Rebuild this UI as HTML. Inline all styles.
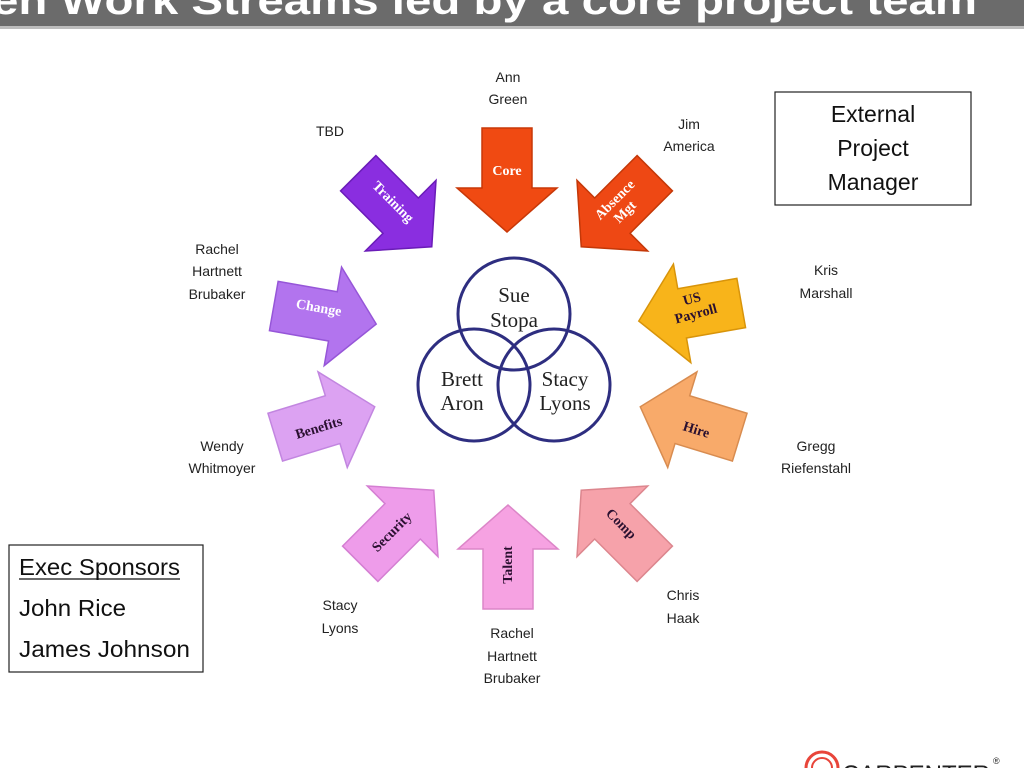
<!DOCTYPE html>
<html><head><meta charset="utf-8"><style>
html,body{margin:0;padding:0;background:#fff;width:1024px;height:768px;overflow:hidden;font-family:"Liberation Sans",sans-serif;}
</style></head><body>
<svg width="1024" height="768" viewBox="0 0 1024 768" xmlns="http://www.w3.org/2000/svg" font-family="Liberation Sans, sans-serif">
<defs>
<path id="arr" d="M-25,-52 L25,-52 L25,8 L50,8 L0,52 L-50,8 L-25,8 Z"/>
</defs>
<rect x="0" y="0" width="1024" height="26" fill="#6b6b6b"/>
<rect x="0" y="26" width="1024" height="3" fill="#bdbdbd"/>
<text x="-8" y="14" font-size="40" font-weight="bold" fill="#fff" textLength="985" lengthAdjust="spacingAndGlyphs">en Work Streams led by a core project team</text>

<g stroke-width="1.5">
<use href="#arr" transform="translate(507,180)" fill="#f04a12" stroke="#c83808"/>
<use href="#arr" transform="translate(395,210) rotate(-45)" fill="#8a2ee0" stroke="#6a1cb8"/>
<use href="#arr" transform="translate(618,210) rotate(45)" fill="#ee4814" stroke="#c43808"/>
<use href="#arr" transform="translate(325,315) rotate(-80)" fill="#b274ee" stroke="#9656d8"/>
<use href="#arr" transform="translate(690,312) rotate(80)" fill="#f8b41a" stroke="#d8940a"/>
<use href="#arr" transform="translate(325,422) rotate(-107)" fill="#dca2f2" stroke="#c286e0"/>
<use href="#arr" transform="translate(690,422) rotate(107)" fill="#f8aa6a" stroke="#d88c50"/>
<use href="#arr" transform="translate(397,527) rotate(-135)" fill="#ee9cea" stroke="#d47ed2"/>
<use href="#arr" transform="translate(508,557) rotate(180)" fill="#f6a2e2" stroke="#dc86c8"/>
<use href="#arr" transform="translate(618,527) rotate(135)" fill="#f6a2aa" stroke="#dc868e"/>
</g>
<g font-family="Liberation Serif, serif" font-weight="bold" font-size="14" text-anchor="middle">
<text transform="translate(507,175)" fill="#fff">Core</text>
<text transform="translate(390,205) rotate(45)" fill="#fff">Training</text>
<text transform="translate(620,205) rotate(-45)" fill="#fff" dy="-3">Absence</text>
<text transform="translate(628,215) rotate(-45)" fill="#fff">Mgt</text>
<text transform="translate(318,312) rotate(10)" fill="#fff">Change</text>
<text transform="translate(693,303) rotate(-15)" fill="#2a1030">US</text>
<text transform="translate(697,318) rotate(-15)" fill="#2a1030">Payroll</text>
<text transform="translate(320,432) rotate(-17)" fill="#2a1030">Benefits</text>
<text transform="translate(695,434) rotate(17)" fill="#2a1030">Hire</text>
<text transform="translate(395,535) rotate(-45)" fill="#2a1030">Security</text>
<text transform="translate(512,565) rotate(-90)" fill="#2a1030">Talent</text>
<text transform="translate(618,527) rotate(45)" fill="#2a1030">Comp</text>
</g>

<g fill="none" stroke="#2e2e80" stroke-width="3">
<circle cx="514" cy="314" r="56"/>
<circle cx="474" cy="385" r="56"/>
<circle cx="554" cy="385" r="56"/>
</g>
<g font-family="Liberation Serif, serif" font-size="21" fill="#222" text-anchor="middle">
<text x="514" y="302">Sue</text><text x="514" y="327">Stopa</text>
<text x="462" y="386">Brett</text><text x="462" y="410">Aron</text>
<text x="565" y="386">Stacy</text><text x="565" y="410">Lyons</text>
</g>

<g font-size="14" fill="#222" text-anchor="middle">
<text x="508" y="82">Ann</text><text x="508" y="104">Green</text>
<text x="330" y="136">TBD</text>
<text x="689" y="129">Jim</text><text x="689" y="151">America</text>
<text x="217" y="254">Rachel</text><text x="217" y="276">Hartnett</text><text x="217" y="299">Brubaker</text>
<text x="826" y="275">Kris</text><text x="826" y="298">Marshall</text>
<text x="222" y="451">Wendy</text><text x="222" y="473">Whitmoyer</text>
<text x="816" y="451">Gregg</text><text x="816" y="473">Riefenstahl</text>
<text x="340" y="610">Stacy</text><text x="340" y="633">Lyons</text>
<text x="683" y="600">Chris</text><text x="683" y="623">Haak</text>
<text x="512" y="638">Rachel</text><text x="512" y="661">Hartnett</text><text x="512" y="683">Brubaker</text>
</g>

<rect x="775" y="92" width="196" height="113" fill="#fff" stroke="#222" stroke-width="1.2"/>
<g font-size="23" fill="#111" text-anchor="middle">
<text x="873" y="122">External</text><text x="873" y="156">Project</text><text x="873" y="190">Manager</text>
</g>
<rect x="9" y="545" width="194" height="127" fill="#fff" stroke="#222" stroke-width="1.2"/>
<g font-size="23" fill="#111">
<text x="19" y="575" textLength="161" lengthAdjust="spacingAndGlyphs">Exec Sponsors</text>
<line x1="19" y1="579" x2="180" y2="579" stroke="#111" stroke-width="1.2"/>
<text x="19" y="616" textLength="107" lengthAdjust="spacingAndGlyphs">John Rice</text>
<text x="19" y="657" textLength="171" lengthAdjust="spacingAndGlyphs">James Johnson</text>
</g>

<circle cx="822" cy="768" r="16" fill="none" stroke="#e8453a" stroke-width="3"/>
<circle cx="822" cy="768" r="10" fill="none" stroke="#e8453a" stroke-width="2"/>
<text x="842" y="782" font-size="24" fill="#222" textLength="148" lengthAdjust="spacingAndGlyphs">CARPENTER</text>
<text x="993" y="764" font-size="9" fill="#222">®</text>
</svg>
</body></html>
